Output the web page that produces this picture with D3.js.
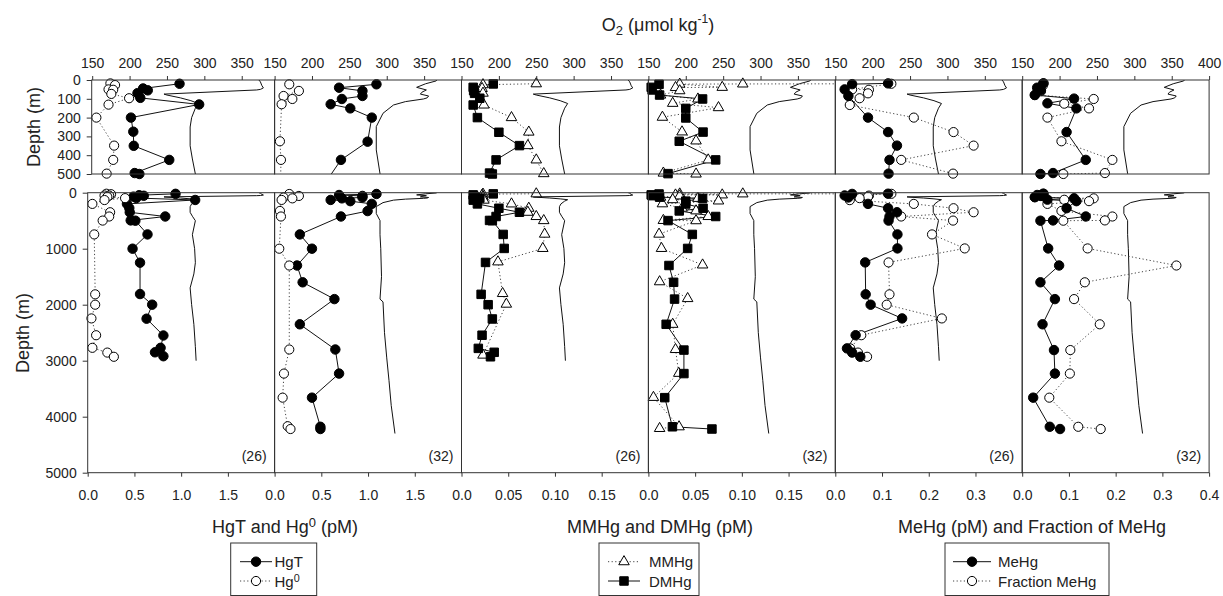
<!DOCTYPE html>
<html>
<head>
<meta charset="utf-8">
<script src="https://cdn.jsdelivr.net/npm/d3@7"></script>
<style>
  body { margin: 0; background: #fff; }
  svg { font-family: "Liberation Sans", Arial, sans-serif; }
  .axis text { font-size: 14px; fill: #222; }
  .axis line { stroke: #333; }
  .axis path { display: none; }
</style>
</head>
<body>
<div id="chart"></div>
<script>

// 1. Data  ([depth m, value])

const o2St26 = [[0,373],[10,375],[30,377],[42,379],[50,375],[53,370],[75,246],[80,250],[95,268],[110,282],[125,292],[150,288],[200,283],[250,281],[350,281],[420,284],[500,288],[750,284],[1000,287],[1250,288],[1450,286],[1700,281],[2000,283],[2350,286],[2750,288],[3000,289]]
const o2St32 = [[0,367],[5,366],[20,352],[39,340],[53,353],[65,347],[75,345],[85,356],[95,354],[101,349],[115,325],[133,309],[177,295],[248,286],[372,286],[498,291],[750,291],[1000,292],[1500,293],[1900,291],[1950,295],[2500,297],[2950,300],[3350,303],[3800,306],[4300,311]]

const hgT26 = [[20,0.94],[45,0.55],[55,0.60],[70,0.49],[95,0.52],[130,1.15],[200,0.42],[275,0.445],[350,0.45],[425,0.83],[495,0.46],[500,0.51],[745,0.64],[1000,0.48],[1250,0.56],[1810,0.56],[2000,0.69],[2250,0.63],[2550,0.81],[2770,0.78],[2850,0.72],[2920,0.81]]
const hg0St26 = [[18,0.20],[27,0.25],[50,0.18],[52,0.23],[74,0.21],[97,0.40],[131,0.18],[200,0.05],[349,0.24],[425,0.23],[498,0.16],[745,0.07],[1815,0.08],[2000,0.08],[2245,0.04],[2545,0.09],[2770,0.05],[2855,0.21],[2930,0.28]]
const hgT32 = [[23,1.09],[41,0.69],[58,0.94],[85,0.94],[101,0.72],[129,0.60],[151,0.81],[200,1.04],[328,0.995],[425,0.71],[745,0.27],[1000,0.40],[1300,0.24],[1600,0.30],[1900,0.64],[2350,0.27],[2800,0.65],[3230,0.69],[3660,0.40],[4180,0.49],[4220,0.49]]
const hg0St32 = [[23,0.157],[58,0.26],[85,0.096],[101,0.19],[129,0.075],[326,0.057],[425,0.068],[1000,0.05],[1300,0.157],[2800,0.157],[3230,0.10],[3660,0.086],[4170,0.14],[4220,0.17]]

const mmhg26 = [[20,0.080],[25,0.023],[45,0.022],[70,0.023],[133,0.024],[200,0.0535],[277,0.072],[349,0.071],[425,0.080],[498,0.088],[740,0.089],[995,0.087],[1235,0.039],[1800,0.044],[1990,0.048],[2900,0.023]]
const dmhg26 = [[21,0.034],[39,0.0125],[57,0.013],[71,0.014],[97,0.0196],[133,0.0125],[200,0.017],[278,0.040],[349,0.062],[425,0.037],[495,0.030],[500,0.033],[745,0.0446],[995,0.0457],[1245,0.0257],[1815,0.021],[2000,0.0285],[2255,0.033],[2545,0.022],[2780,0.018],[2850,0.035],[2930,0.031]]
const mmhg32 = [[20,0.26],[21,0.101],[22,0.0335],[39,0.079],[40,0.029],[57,0.0335],[80,0.013],[101,0.053],[124,0.026],[147,0.075],[198,0.015],[276,0.036],[324,0.051],[425,0.064],[495,0.016],[500,0.051],[740,0.0114],[995,0.014],[1290,0.058],[1590,0.012],[1890,0.042],[2350,0.026],[2800,0.029],[3225,0.0325],[3655,0.0054],[4180,0.0328],[4210,0.012]]
const dmhg32 = [[23,0.0114],[39,0.003],[53,0.004],[80,0.012],[101,0.058],[151,0.040],[202,0.040],[277,0.0585],[326,0.033],[425,0.072],[498,0.021],[745,0.047],[995,0.042],[1300,0.022],[1600,0.027],[1900,0.028],[2350,0.019],[2810,0.038],[3230,0.038],[3660,0.0175],[4180,0.0257],[4220,0.068]]

const mehg26 = [[18,0.113],[22,0.036],[50,0.020],[85,0.028],[200,0.070],[277,0.113],[349,0.132],[425,0.116],[498,0.114],[745,0.133],[995,0.133],[1245,0.064],[1815,0.065],[2000,0.0756],[2245,0.143],[2545,0.0435],[2780,0.025],[2855,0.036],[2930,0.0535]]
const frac26 = [[20,0.12],[50,0.036],[52,0.072],[71,0.070],[97,0.052],[133,0.031],[200,0.168],[277,0.253],[349,0.296],[425,0.141],[498,0.252],[745,0.207],[995,0.277],[1245,0.114],[1815,0.116],[2000,0.110],[2245,0.228],[2545,0.0556],[2780,0.032],[2855,0.0485],[2930,0.068]]
const mehg32 = [[18,0.045],[41,0.032],[55,0.040],[80,0.027],[99,0.111],[124,0.054],[151,0.116],[277,0.095],[425,0.136],[495,0.066],[500,0.039],[995,0.0556],[1300,0.079],[1600,0.039],[1900,0.070],[2350,0.0435],[2810,0.068],[3230,0.070],[3660,0.0235],[4180,0.059],[4220,0.081]]
const frac32 = [[18,0.046],[30,0.044],[60,0.040],[80,0.027],[101,0.153],[126,0.090],[151,0.143],[200,0.054],[326,0.084],[425,0.193],[495,0.177],[500,0.088],[995,0.140],[1300,0.330],[1600,0.134],[1900,0.111],[2350,0.166],[2810,0.103],[3230,0.102],[3660,0.058],[4180,0.12],[4220,0.168]]

const o2Ticks = [150, 200, 250, 300, 350]
const hgTicks = [0, 0.5, 1.0, 1.5]
const mmTicks = [0, 0.05, 0.10, 0.15]
const meTicks = [0, 0.1, 0.2, 0.3]
const stationLabels = ["(26)", "(32)", "(26)", "(32)", "(26)", "(32)"]

// 2. Dimensions

const width = 1223
const height = 596
const panelW = 186.9
const left0 = 87.7

const rows = [
  { y0: 80, y1: 174, maxDepth: 500, depthTicks: [0, 100, 200, 300, 400, 500], frameShift: 4, dataShift: 4 },
  { y0: 192.7, y1: 472.7, maxDepth: 5000, depthTicks: [0, 1000, 2000, 3000, 4000, 5000], frameShift: 0, dataShift: 0 },
]
const o2Shift = 4.5

const fmt1 = d3.format(".1f")
const fmt2 = d => d === 0 ? "0.0" : d3.format(".2f")(d)

const panels = [
  { o2: o2St26, xMax: 2, ticks: hgTicks, fmt: fmt1, series: [
    { data: hgT26, dotted: false, mark: "filledCircle" },
    { data: hg0St26, dotted: true, mark: "openCircle" } ] },
  { o2: o2St32, xMax: 2, ticks: hgTicks, fmt: fmt1, series: [
    { data: hgT32, dotted: false, mark: "filledCircle" },
    { data: hg0St32, dotted: true, mark: "openCircle" } ] },
  { o2: o2St26, xMax: 0.2, ticks: mmTicks, fmt: fmt2, series: [
    { data: mmhg26, dotted: true, mark: "openTriangle" },
    { data: dmhg26, dotted: false, mark: "filledSquare" } ] },
  { o2: o2St32, xMax: 0.2, ticks: mmTicks, fmt: fmt2, series: [
    { data: mmhg32, dotted: true, mark: "openTriangle" },
    { data: dmhg32, dotted: false, mark: "filledSquare" } ] },
  { o2: o2St26, xMax: 0.4, ticks: meTicks, fmt: fmt1, series: [
    { data: frac26, dotted: true, mark: "openCircle" },
    { data: mehg26, dotted: false, mark: "filledCircle" } ] },
  { o2: o2St32, xMax: 0.4, ticks: meTicks, fmt: fmt1, series: [
    { data: frac32, dotted: true, mark: "openCircle" },
    { data: mehg32, dotted: false, mark: "filledCircle" } ] },
]

// 3. Canvas

const svg = d3.select("#chart")
  .append("svg")
    .attr("width", width)
    .attr("height", height)

const defs = svg.append("defs")

const markStyles = {
  filledCircle: { type: d3.symbolCircle, size: 70, fill: "#000" },
  openCircle: { type: d3.symbolCircle, size: 66, fill: "#fff" },
  filledSquare: { type: d3.symbolSquare, size: 72, fill: "#000" },
  openTriangle: { type: d3.symbolTriangle, size: 48, fill: "#fff" },
}

function drawMark(g, kind, x, y) {
  const s = markStyles[kind]
  g.append("path")
      .attr("d", d3.symbol().type(s.type).size(s.size)())
      .attr("transform", `translate(${x},${y})`)
      .attr("fill", s.fill)
      .attr("stroke", "#000")
      .attr("stroke-width", 1)
}

// 4. Panels

rows.forEach((row, ri) => {
  panels.forEach((p, i) => {
    const L = left0 + i * panelW
    const fL = L + (i === 0 ? row.frameShift : 0)
    const dS = i === 0 ? row.dataShift : 0
    const oS = i === 0 ? o2Shift : 0

    const xScale = d3.scaleLinear().domain([0, p.xMax]).range([L + dS, L + dS + panelW])
    const o2Scale = d3.scaleLinear().domain([150, 400]).range([L + oS, L + oS + panelW])
    const yScale = d3.scaleLinear().domain([0, row.maxDepth]).range([row.y0, row.y1])

    const clipId = `clip-${ri}-${i}`
    defs.append("clipPath").attr("id", clipId)
      .append("rect")
        .attr("x", fL)
        .attr("y", row.y0)
        .attr("width", L + panelW - fL)
        .attr("height", row.y1 - row.y0)

    const lines = svg.append("g").attr("clip-path", `url(#${clipId})`)

    const o2Line = d3.line()
      .x(d => o2Scale(d[1]))
      .y(d => yScale(d[0]))

    lines.append("path")
        .attr("d", o2Line(p.o2))
        .attr("fill", "none")
        .attr("stroke", "#111")
        .attr("stroke-width", 1)

    const dataLine = d3.line()
      .x(d => xScale(d[1]))
      .y(d => yScale(d[0]))

    p.series.forEach(s => {
      lines.append("path")
          .attr("d", dataLine(s.data))
          .attr("fill", "none")
          .attr("stroke", s.dotted ? "#444" : "#111")
          .attr("stroke-width", 1)
          .attr("stroke-dasharray", s.dotted ? "1.2,2.4" : null)
    })

    const marks = svg.append("g")
    p.series.forEach(s => {
      s.data
        .filter(d => d[0] <= row.maxDepth * 1.02 && d[1] <= p.xMax)
        .forEach(d => drawMark(marks, s.mark, xScale(d[1]), yScale(d[0])))
    })

    // frame
    svg.append("rect")
        .attr("x", fL)
        .attr("y", row.y0)
        .attr("width", L + panelW - fL)
        .attr("height", row.y1 - row.y0)
        .attr("fill", "none")
        .attr("stroke", "#333")
        .attr("stroke-width", 1)

    // axes
    if (ri === 0) {
      const vals = i === 5 ? o2Ticks.concat([400]) : o2Ticks
      svg.append("g")
          .attr("class", "axis")
          .attr("transform", `translate(0,${row.y0})`)
        .call(d3.axisTop(o2Scale).tickValues(vals).tickSize(4).tickPadding(8).tickFormat(d3.format("d")))
    } else {
      const vals = i === 5 ? p.ticks.concat([p.xMax]) : p.ticks
      svg.append("g")
          .attr("class", "axis")
          .attr("transform", `translate(0,${row.y1})`)
        .call(d3.axisBottom(xScale).tickValues(vals).tickSize(4).tickPadding(13).tickFormat(p.fmt))

      svg.append("text")
          .attr("x", L + panelW - 8)
          .attr("y", 461)
          .attr("text-anchor", "end")
          .attr("font-size", 14)
          .attr("fill", "#222")
          .text(stationLabels[i])
    }

    if (i === 0) {
      svg.append("g")
          .attr("class", "axis")
          .attr("transform", `translate(${fL},0)`)
        .call(d3.axisLeft(yScale).tickValues(row.depthTicks).tickSize(5).tickPadding(6).tickFormat(d3.format("d")))
    }
  })
})

// 5. Peripherals

const titleSize = 18

const o2Title = svg.append("text")
    .attr("x", 658)
    .attr("y", 31)
    .attr("text-anchor", "middle")
    .attr("font-size", titleSize)
    .attr("fill", "#222")
o2Title.append("tspan").text("O")
o2Title.append("tspan").attr("font-size", 13).attr("dy", 4).text("2")
o2Title.append("tspan").attr("dy", -4).text(" (\u03bcmol kg")
o2Title.append("tspan").attr("font-size", 12).attr("dy", -8).text("-1")
o2Title.append("tspan").attr("dy", 8).text(")")

const depthLabels = [[34, 127], [23, 333]]
depthLabels.forEach(([x, y]) => {
  svg.append("text")
      .attr("transform", `translate(${x},${y}) rotate(-90)`)
      .attr("text-anchor", "middle")
      .attr("dy", "0.35em")
      .attr("font-size", titleSize)
      .attr("fill", "#222")
      .text("Depth (m)")
})

function addSuperText(sel, before, sup, after) {
  sel.append("tspan").text(before)
  sel.append("tspan").attr("font-size", "0.72em").attr("dy", "-0.45em").text(sup)
  sel.append("tspan").attr("dy", "0.32em").text(after)
}

const xTitle1 = svg.append("text")
    .attr("x", 285).attr("y", 533)
    .attr("text-anchor", "middle")
    .attr("font-size", titleSize)
    .attr("fill", "#222")
addSuperText(xTitle1, "HgT and Hg", "0", " (pM)")

svg.append("text")
    .attr("x", 660).attr("y", 533)
    .attr("text-anchor", "middle")
    .attr("font-size", titleSize)
    .attr("fill", "#222")
    .text("MMHg and DMHg (pM)")

svg.append("text")
    .attr("x", 1032).attr("y", 533)
    .attr("text-anchor", "middle")
    .attr("font-size", titleSize)
    .attr("fill", "#222")
    .text("MeHg (pM) and Fraction of MeHg")

// legends

const legends = [
  { x: 230.7, w: 86, lineX: [240, 272], textX: 274.5, items: [
    { label: "HgT", dotted: false, mark: "filledCircle" },
    { label: "Hg", sup: "0", dotted: true, mark: "openCircle" } ] },
  { x: 599, w: 100, lineX: [608, 640], textX: 649, items: [
    { label: "MMHg", dotted: true, mark: "openTriangle" },
    { label: "DMHg", dotted: false, mark: "filledSquare" } ] },
  { x: 945, w: 164, lineX: [953, 991], textX: 998, items: [
    { label: "MeHg", dotted: false, mark: "filledCircle" },
    { label: "Fraction MeHg", dotted: true, mark: "openCircle" } ] },
]
const legendRows = [561.7, 581]

legends.forEach(lg => {
  const g = svg.append("g")
  g.append("rect")
      .attr("x", lg.x)
      .attr("y", 543)
      .attr("width", lg.w)
      .attr("height", 52.5)
      .attr("fill", "none")
      .attr("stroke", "#333")
      .attr("stroke-width", 1)

  lg.items.forEach((it, k) => {
    const y = legendRows[k]
    g.append("line")
        .attr("x1", lg.lineX[0])
        .attr("x2", lg.lineX[1])
        .attr("y1", y)
        .attr("y2", y)
        .attr("stroke", it.dotted ? "#444" : "#111")
        .attr("stroke-width", 1)
        .attr("stroke-dasharray", it.dotted ? "1.2,2.4" : null)
    drawMark(g, it.mark, (lg.lineX[0] + lg.lineX[1]) / 2, y)
    const t = g.append("text")
        .attr("x", lg.textX)
        .attr("y", y + 5.5)
        .attr("font-size", 15)
        .attr("fill", "#222")
    if (it.sup) addSuperText(t, it.label, it.sup, "")
    else t.text(it.label)
  })
})

</script>
</body>
</html>
